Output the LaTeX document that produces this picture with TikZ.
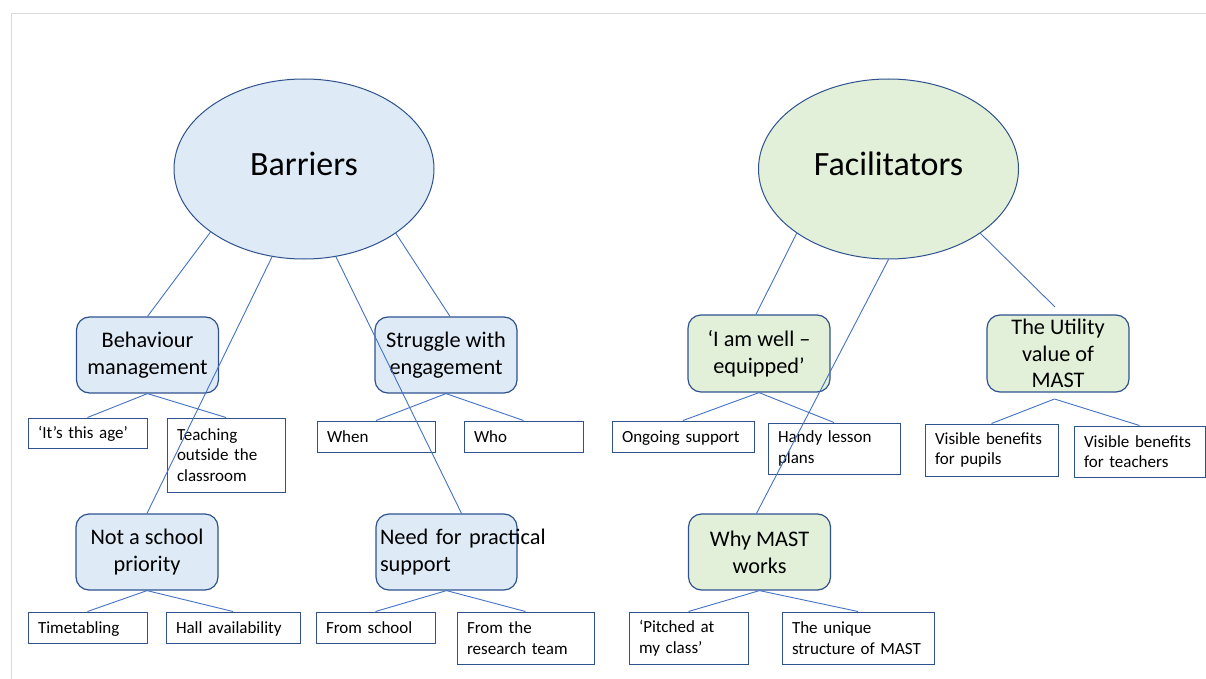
\documentclass[tikz,border=0pt]{standalone}
\usepackage{fontspec}
\setmainfont{Carlito}
\usetikzlibrary{shapes.geometric}
\definecolor{bord}{HTML}{2F528F}
\definecolor{conn}{HTML}{4472C4}
\definecolor{bfill}{HTML}{DEEBF7}
\definecolor{gfill}{HTML}{E2F0D9}
\definecolor{framegray}{HTML}{DADADA}
\begin{document}
\begin{tikzpicture}[x=1pt,y=-1pt,
  oval/.style={ellipse, draw=bord, line width=1pt, minimum width=260pt, minimum height=180pt, inner sep=0pt, font=\fontsize{34}{41}\selectfont, text depth=10pt},
  topic/.style={draw=bord, line width=1.2pt, rounded corners=13pt, minimum width=142pt, minimum height=76pt, inner sep=2pt, align=center, font=\fontsize{22.3}{26.7}\selectfont},
  leaf/.style={draw=bord, line width=1pt, fill=white, inner xsep=10pt, inner ysep=0pt, align=left, font=\fontsize{17}{20.5}\selectfont},
  one/.style={text height=11pt, text depth=0pt},
  link/.style={draw=conn, line width=0.9pt}]
\useasboundingbox (0,0) rectangle (1206,679);
\fill[white] (0,0) rectangle (1206,679);
\draw[framegray, line width=1pt] (11,679) -- (11,14) -- (1206,14);

% ellipses
\node[oval, fill=bfill] (barriers) at (304,169) {Barriers};
\node[oval, fill=gfill] (facil) at (888.5,169) {Facilitators};

% topic boxes
\node[topic, fill=bfill] (bm) at (147.5,355) {Behaviour\\management};
\node[topic, fill=bfill] (sw) at (446,355) {Struggle with\\engagement};
\node[topic, fill=bfill] (ns) at (147,552) {Not a school\\priority};
\node[topic, fill=bfill, align=left, text width=133pt, inner xsep=4pt, minimum width=141pt] (np) at (446.5,552) {\mbox{Need for practical}\\support};
\node[topic, fill=gfill, minimum height=77pt] (ie) at (759,353.5) {‘I am well –\\equipped’};
\node[topic, fill=gfill, minimum height=77pt] (uv) at (1058,353.5) {The Utility\\value of\\MAST};
\node[topic, fill=gfill] (wm) at (759.5,552) {Why MAST\\works};

% leaf boxes
\node[leaf, one, text width=99pt, minimum height=30pt] (age) at (87.5,433) {‘It’s~this~age’};
\node[leaf, text width=98pt, minimum height=74pt] (teach) at (226,455) {Teaching\\outside~the\\classroom};
\node[leaf, one, text width=98pt, minimum height=31pt] (when) at (376,436.5) {When};
\node[leaf, one, text width=99pt, minimum height=31pt] (who) at (523.5,436.5) {Who};
\node[leaf, one, text width=122pt, minimum height=31pt] (ongo) at (683,436.5) {Ongoing~support};
\node[leaf, text width=112pt, minimum height=51pt] (handy) at (834,448.5) {Handy~lesson\\plans};
\node[leaf, text width=113pt, minimum height=52pt] (vbp) at (991.5,450) {Visible~benefits\\for~pupils};
\node[leaf, text width=111pt, minimum height=51pt] (vbt) at (1139.5,451.5) {Visible~benefits\\for~teachers};
\node[leaf, one, text width=99pt, minimum height=31pt] (time) at (87.5,627.5) {Timetabling};
\node[leaf, one, text width=114pt, minimum height=31pt] (hall) at (233,627.5) {Hall~availability};
\node[leaf, one, text width=99pt, minimum height=31pt] (fsch) at (375.5,627.5) {From~school};
\node[leaf, text width=117pt, minimum height=52pt] (frt) at (525.5,638) {From~the\\research~team};
\node[leaf, text width=99pt, minimum height=52pt] (pitch) at (688.5,638) {‘Pitched~at\\my~class’};
\node[leaf, text width=132pt, minimum height=52pt] (uniq) at (858,638) {The~unique\\structure~of~MAST};

\coordinate (ut) at (1055,307);
\coordinate (ub) at (1054.5,399);

% connectors from ellipses
\draw[link] (barriers.214.8) -- (bm.north);
\draw[link] (barriers.250.2) -- (ns.north);
\draw[link] (barriers.290.3) -- ([xshift=15pt]np.north);
\draw[link] (barriers.325.2) -- ([xshift=4pt]sw.north);
\draw[link] (facil.215) -- ([xshift=-3pt]ie.north);
\draw[link] (facil.270) -- ([xshift=-3pt]wm.north);
\draw[link] (facil.325.3) -- (ut);

% connectors to leaves
\draw[link] (bm.south) -- (age.north);
\draw[link] (bm.south) -- (teach.north);
\draw[link] (sw.south) -- (when.north);
\draw[link] (sw.south) -- (who.north);
\draw[link] (ie.south) -- (ongo.north);
\draw[link] (ie.south) -- (handy.north);
\draw[link] (ub) -- (vbp.north);
\draw[link] (ub) -- (vbt.north);
\draw[link] (ns.south) -- (time.north);
\draw[link] (ns.south) -- (hall.north);
\draw[link] (np.south) -- (fsch.north);
\draw[link] (np.south) -- (frt.north);
\draw[link] (wm.south) -- (pitch.north);
\draw[link] (wm.south) -- (uniq.north);
\end{tikzpicture}
\end{document}
